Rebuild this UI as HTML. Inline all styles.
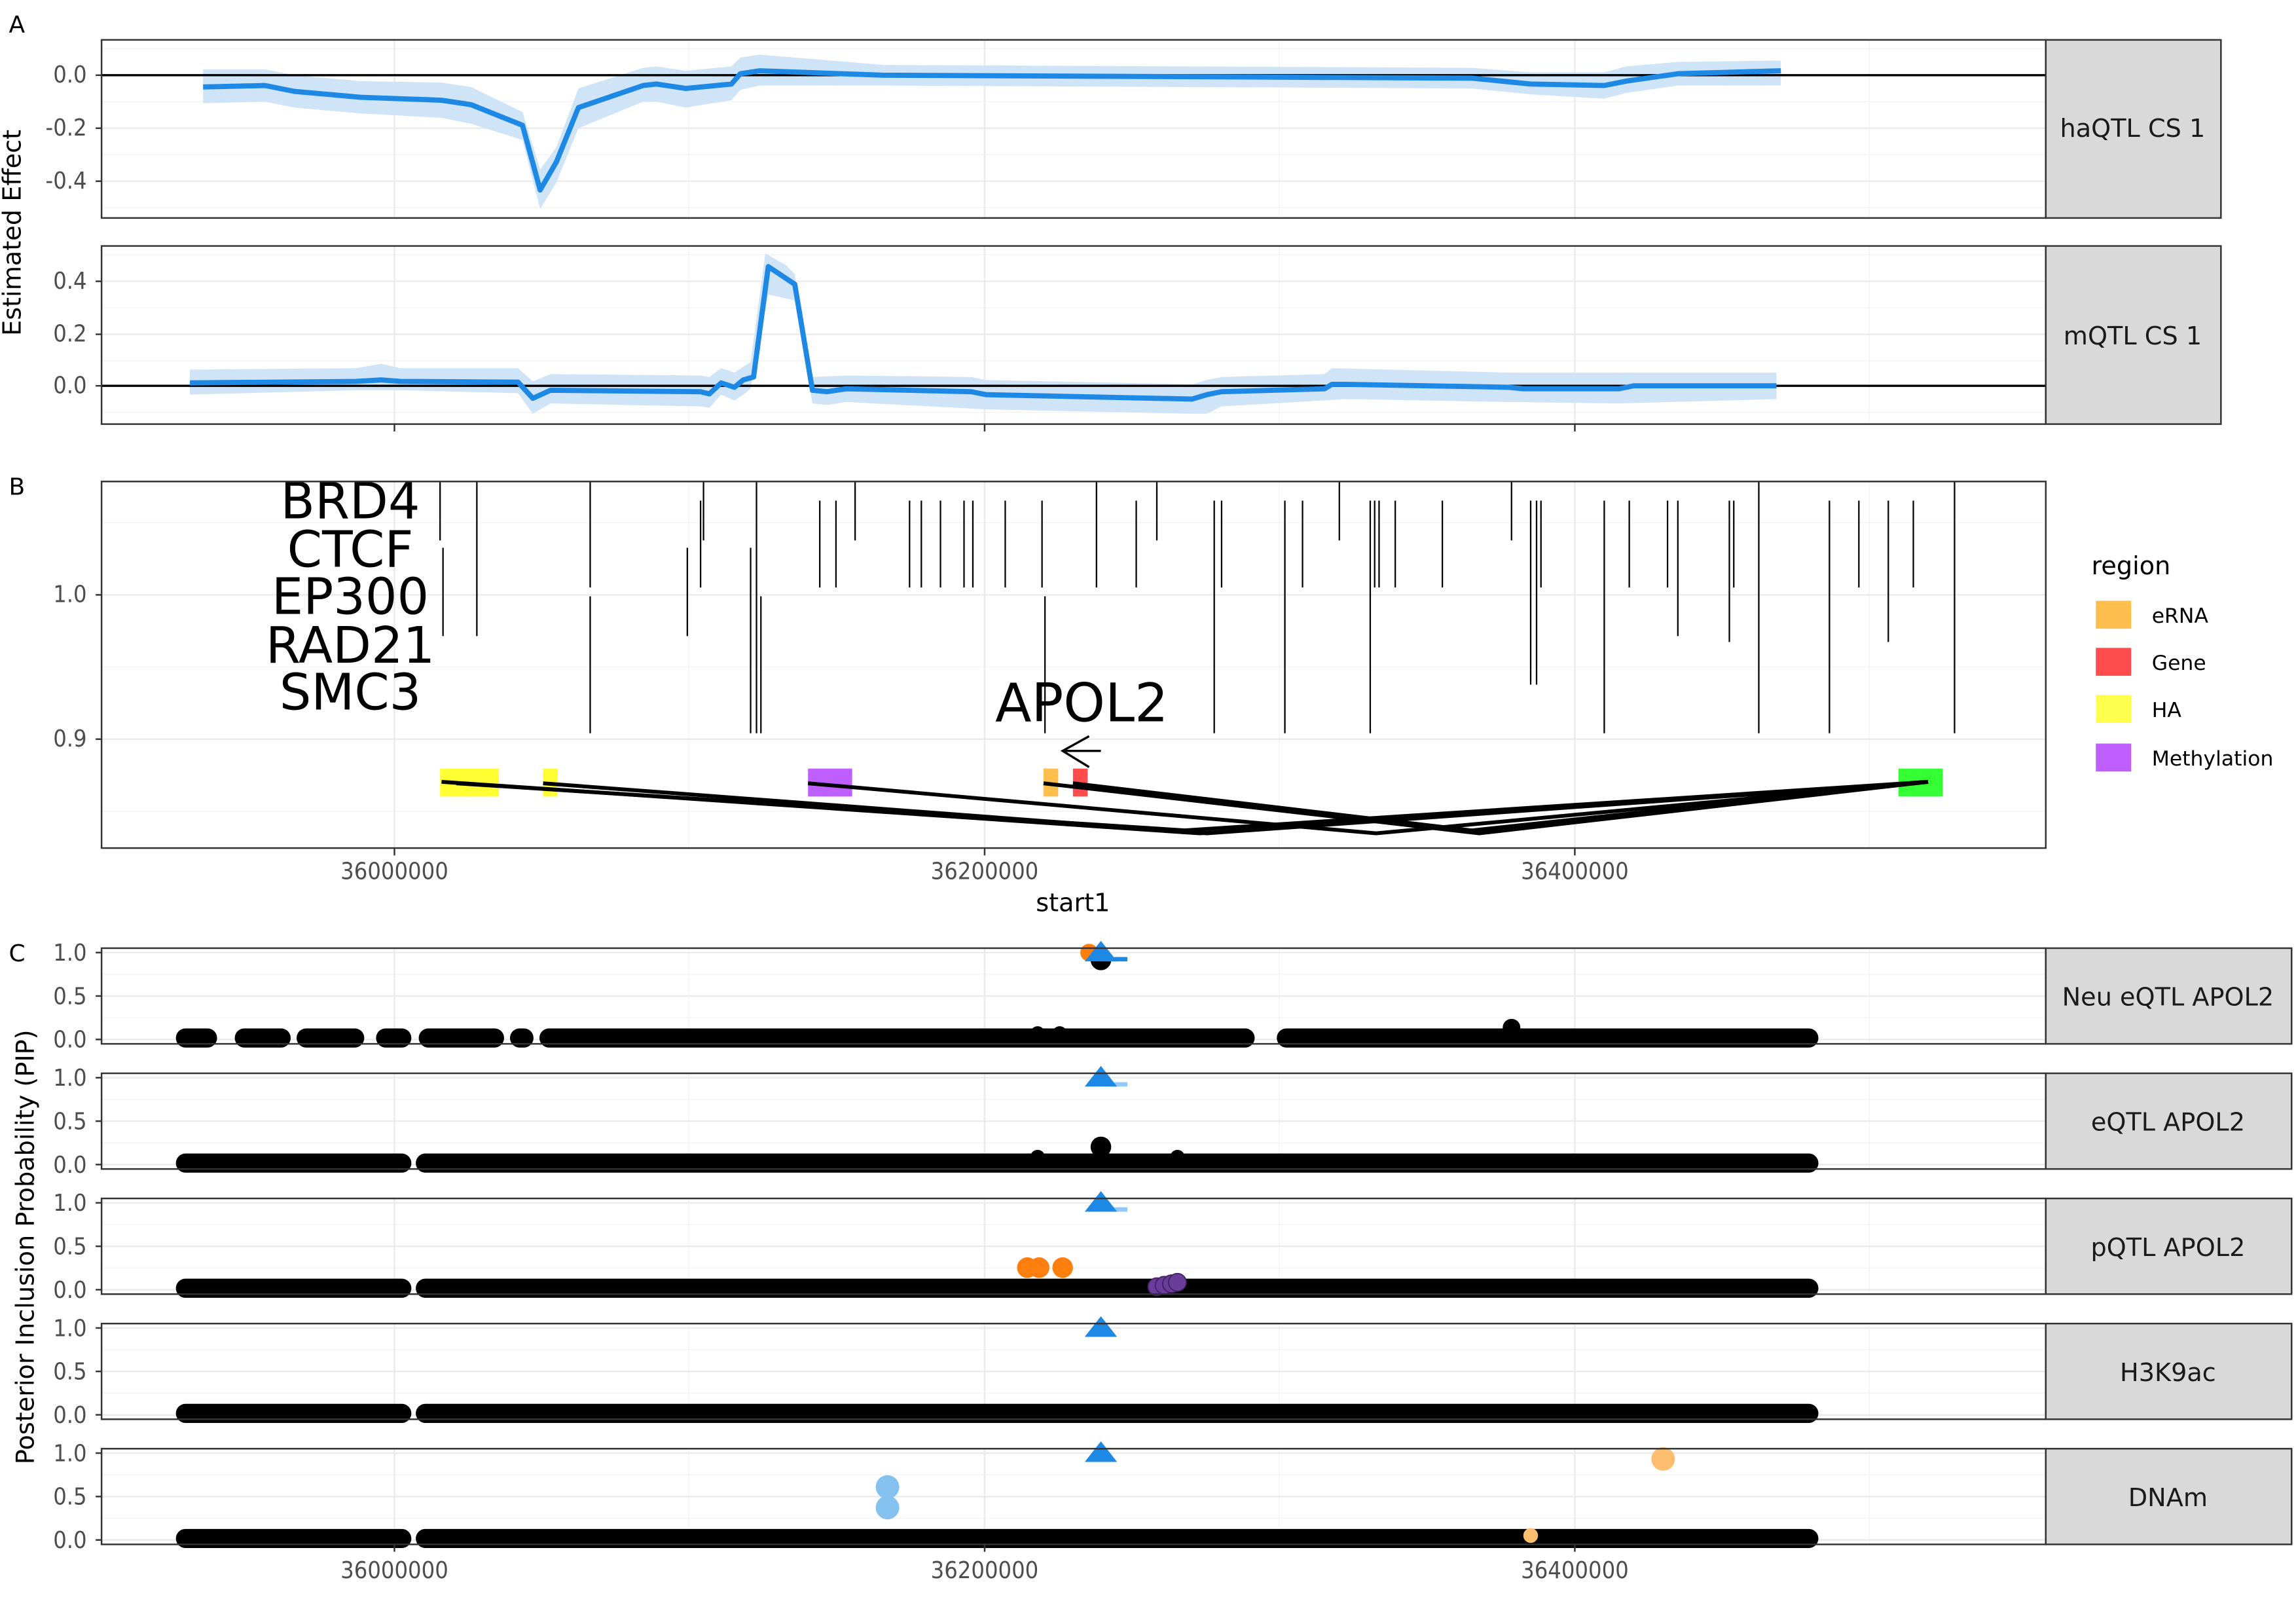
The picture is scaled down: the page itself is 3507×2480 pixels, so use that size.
<!DOCTYPE html>
<html><head><meta charset="utf-8"><style>
html,body{margin:0;padding:0;background:#fff;}
svg{display:block;}
text{font-family:"DejaVu Sans","Liberation Sans",sans-serif;}
.tk{font-size:16px;fill:#4d4d4d;font-stretch:condensed;}
.st{font-size:17px;fill:#1a1a1a;}
.mj{stroke:#ebebeb;stroke-width:1.1;}
.mn{stroke:#f2f2f2;stroke-width:0.6;}
.bd{fill:none;stroke:#333;stroke-width:1.1;}
.strip{fill:#d9d9d9;stroke:#333;stroke-width:1.1;}
.pk{stroke:#000;stroke-width:1;}
</style></head><body>
<svg width="3507" height="2480" viewBox="0 0 1560 1103" xmlns="http://www.w3.org/2000/svg">
<rect width="1560" height="1103" fill="#fff"/>
<!-- ===== Panel A ===== -->
<text x="6" y="22" font-size="16">A</text>
<text transform="translate(14,158) rotate(-90)" text-anchor="middle" font-size="17">Estimated Effect</text>
<g>
<line class="mn" x1="69" x2="1390" y1="33" y2="33"/><line class="mn" x1="69" x2="1390" y1="69" y2="69"/><line class="mn" x1="69" x2="1390" y1="105" y2="105"/><line class="mn" x1="69" x2="1390" y1="141" y2="141"/>
<line class="mn" x1="468" x2="468" y1="27" y2="148"/><line class="mn" x1="869" x2="869" y1="27" y2="148"/><line class="mn" x1="1270" x2="1270" y1="27" y2="148"/>
<line class="mj" x1="69" x2="1390" y1="51" y2="51"/><line class="mj" x1="69" x2="1390" y1="87" y2="87"/><line class="mj" x1="69" x2="1390" y1="123" y2="123"/>
<line class="mj" x1="268" x2="268" y1="27" y2="148"/><line class="mj" x1="669" x2="669" y1="27" y2="148"/><line class="mj" x1="1070" x2="1070" y1="27" y2="148"/>
<polygon fill="#d0e4f8" points="138,47 180,47 200,51 245,55 300,56 320,59 355,76 367,115 378,100 393,60 437,46 446,45 466,48 497,45 503,39 516,37 600,44 1000,46 1040,49 1090,49 1105,45 1140,42 1210,41 1210,58 1140,58 1105,63 1090,67 1040,64 1000,60 600,58 516,58 503,61 497,68 466,73 446,69 437,69 393,87 378,124 367,142 355,95 320,84 300,80 245,77 200,73 180,69 138,70"/>
<line x1="69" x2="1390" y1="51" y2="51" stroke="#000" stroke-width="1.5"/>
<polyline fill="none" stroke="#1e88e5" stroke-width="3.5" stroke-linejoin="round" points="138,59 180,58 200,62 245,66 300,68 320,71 355,85 367,129 378,110 393,73 437,58 446,57 466,60 497,57 503,50 516,48 600,51 1000,53 1040,57 1090,58 1105,55 1140,50 1210,48"/>
<rect class="bd" x="69" y="27" width="1321" height="121"/>
<rect class="strip" x="1390" y="27" width="119" height="121"/>
<text class="st" x="1449" y="93" text-anchor="middle">haQTL CS 1</text>
<g class="tk" text-anchor="end"><text x="59" y="56">0.0</text><text x="59" y="92">-0.2</text><text x="59" y="128">-0.4</text></g>
<g stroke="#333" stroke-width="1.1"><line x1="65" x2="69" y1="51" y2="51"/><line x1="65" x2="69" y1="87" y2="87"/><line x1="65" x2="69" y1="123" y2="123"/></g>
</g>
<g>
<line class="mn" x1="69" x2="1390" y1="173" y2="173"/><line class="mn" x1="69" x2="1390" y1="209" y2="209"/><line class="mn" x1="69" x2="1390" y1="245" y2="245"/><line class="mn" x1="69" x2="1390" y1="280" y2="280"/>
<line class="mn" x1="468" x2="468" y1="167" y2="288"/><line class="mn" x1="869" x2="869" y1="167" y2="288"/><line class="mn" x1="1270" x2="1270" y1="167" y2="288"/>
<line class="mj" x1="69" x2="1390" y1="191" y2="191"/><line class="mj" x1="69" x2="1390" y1="227" y2="227"/><line class="mj" x1="69" x2="1390" y1="262" y2="262"/>
<line class="mj" x1="268" x2="268" y1="167" y2="288"/><line class="mj" x1="669" x2="669" y1="167" y2="288"/><line class="mj" x1="1070" x2="1070" y1="167" y2="288"/>
<polygon fill="#d0e4f8" points="129,251 242,250 259,247 272,250 352,250 362,259 374,254 476,255 482,256 490,250 499,253 505,249 510,246 520,172 534,180 540,186 552,256 575,255 660,256 670,258 810,261 820,258 830,256 900,254 905,250 1025,253 1100,253 1207,253 1207,271 1100,274 1025,273 915,271 830,276 820,281 810,281 670,278 575,273 562,275 552,274 540,204 522,200 510,264 505,268 499,272 490,268 482,277 476,276 374,274 362,281 352,267 272,265 242,265 129,268"/>
<line x1="69" x2="1390" y1="262" y2="262" stroke="#000" stroke-width="1.5"/>
<polyline fill="none" stroke="#1e88e5" stroke-width="3.5" stroke-linejoin="round" points="129,260 242,259 259,258 272,259 352,259.5 362,270.5 374,265 476,266 482,267.5 490,260 499,263 505,258 512,256 522,181 540,193 552,265 562,266 575,264 660,266 670,268 810,271 820,268 830,266 900,264 905,261 915,261 1025,263 1035,264 1100,264 1110,262 1207,262"/>
<rect class="bd" x="69" y="167" width="1321" height="121"/>
<rect class="strip" x="1390" y="167" width="119" height="121"/>
<text class="st" x="1449" y="234" text-anchor="middle">mQTL CS 1</text>
<g class="tk" text-anchor="end"><text x="59" y="196">0.4</text><text x="59" y="232">0.2</text><text x="59" y="267">0.0</text></g>
<g stroke="#333" stroke-width="1.1"><line x1="65" x2="69" y1="191" y2="191"/><line x1="65" x2="69" y1="227" y2="227"/><line x1="65" x2="69" y1="262" y2="262"/>
<line x1="268" x2="268" y1="288" y2="293"/><line x1="669" x2="669" y1="288" y2="293"/><line x1="1070" x2="1070" y1="288" y2="293"/></g>
</g>
<!-- ===== Panel B ===== -->
<text x="6" y="336" font-size="16">B</text>
<g>
<line class="mn" x1="69" x2="1390" y1="355" y2="355"/><line class="mn" x1="69" x2="1390" y1="453" y2="453"/><line class="mn" x1="69" x2="1390" y1="551" y2="551"/>
<line class="mn" x1="468" x2="468" y1="327" y2="576"/><line class="mn" x1="869" x2="869" y1="327" y2="576"/><line class="mn" x1="1270" x2="1270" y1="327" y2="576"/>
<line class="mj" x1="69" x2="1390" y1="404" y2="404"/><line class="mj" x1="69" x2="1390" y1="502" y2="502"/>
<line class="mj" x1="268" x2="268" y1="327" y2="576"/><line class="mj" x1="669" x2="669" y1="327" y2="576"/><line class="mj" x1="1070" x2="1070" y1="327" y2="576"/>
<g class="pk">
<line x1="299" x2="299" y1="327" y2="367"/><line x1="301" x2="301" y1="372" y2="432"/><line x1="324" x2="324" y1="327" y2="432"/>
<line x1="401" x2="401" y1="327" y2="399"/><line x1="401" x2="401" y1="405" y2="498"/>
<line x1="467" x2="467" y1="372" y2="432"/><line x1="476" x2="476" y1="340" y2="399"/><line x1="478" x2="478" y1="327" y2="367"/>
<line x1="510" x2="510" y1="372" y2="498"/><line x1="514" x2="514" y1="327" y2="498"/><line x1="517" x2="517" y1="405" y2="498"/>
<line x1="557" x2="557" y1="340" y2="399"/><line x1="568" x2="568" y1="340" y2="399"/><line x1="581" x2="581" y1="327" y2="367"/>
<line x1="618" x2="618" y1="340" y2="399"/><line x1="626" x2="626" y1="340" y2="399"/><line x1="639" x2="639" y1="340" y2="399"/><line x1="655" x2="655" y1="340" y2="399"/><line x1="661" x2="661" y1="340" y2="399"/>
<line x1="683" x2="683" y1="340" y2="399"/><line x1="708" x2="708" y1="340" y2="399"/><line x1="710" x2="710" y1="405" y2="498"/>
<line x1="745" x2="745" y1="327" y2="399"/><line x1="772" x2="772" y1="340" y2="399"/><line x1="786" x2="786" y1="327" y2="367"/>
<line x1="825" x2="825" y1="340" y2="498"/><line x1="830" x2="830" y1="340" y2="399"/><line x1="873" x2="873" y1="340" y2="498"/><line x1="885" x2="885" y1="340" y2="399"/>
<line x1="910" x2="910" y1="327" y2="367"/><line x1="931" x2="931" y1="340" y2="498"/><line x1="934" x2="934" y1="340" y2="399"/><line x1="937" x2="937" y1="340" y2="399"/><line x1="948" x2="948" y1="340" y2="399"/><line x1="980" x2="980" y1="340" y2="399"/>
<line x1="1027" x2="1027" y1="327" y2="367"/><line x1="1040" x2="1040" y1="340" y2="465"/><line x1="1044" x2="1044" y1="340" y2="465"/><line x1="1047" x2="1047" y1="340" y2="399"/>
<line x1="1090" x2="1090" y1="340" y2="498"/><line x1="1107" x2="1107" y1="340" y2="399"/><line x1="1133" x2="1133" y1="340" y2="399"/><line x1="1140" x2="1140" y1="340" y2="432"/>
<line x1="1175" x2="1175" y1="340" y2="436"/><line x1="1178" x2="1178" y1="340" y2="399"/><line x1="1195" x2="1195" y1="327" y2="498"/>
<line x1="1243" x2="1243" y1="340" y2="498"/><line x1="1263" x2="1263" y1="340" y2="399"/><line x1="1283" x2="1283" y1="340" y2="436"/><line x1="1300" x2="1300" y1="340" y2="399"/><line x1="1328" x2="1328" y1="327" y2="498"/>
</g>
<g font-size="34" text-anchor="middle" fill="#000"><text x="238" y="352">BRD4</text><text x="238" y="385">CTCF</text><text x="238" y="417">EP300</text><text x="238" y="450">RAD21</text><text x="238" y="482">SMC3</text></g>
<text x="735" y="490" font-size="36" text-anchor="middle">APOL2</text>
<g stroke="#000" stroke-width="1.5" fill="none"><line x1="722" x2="748" y1="510" y2="510"/><polyline points="740,500 722,510 740,521"/></g>
<rect x="299" y="522" width="40" height="19" fill="#ffff33"/><rect x="369" y="522" width="10" height="19" fill="#ffff33"/>
<rect x="549" y="522" width="30" height="19" fill="#bf5fff"/>
<rect x="709" y="522" width="10" height="19" fill="#ffbf4d"/><rect x="729" y="522" width="10" height="19" fill="#ff4d4d"/>
<rect x="1290" y="522" width="30" height="19" fill="#33ff33"/>
<g stroke="#000" stroke-width="2.6" fill="none">
<polyline points="300,531 815,566 1310,531"/><polyline points="310,532 805,564 1310,531"/><polyline points="369,532 820,566 1310,531"/>
<polyline points="549,532 935,566 1310,531"/><polyline points="709,532 1005,566 1310,531"/><polyline points="729,532 1000,564 1310,531"/>
</g>
<rect class="bd" x="69" y="327" width="1321" height="249"/>
<g class="tk" text-anchor="end"><text x="59" y="409">1.0</text><text x="59" y="507">0.9</text></g>
<g stroke="#333" stroke-width="1.1"><line x1="65" x2="69" y1="404" y2="404"/><line x1="65" x2="69" y1="502" y2="502"/>
<line x1="268" x2="268" y1="576" y2="581"/><line x1="669" x2="669" y1="576" y2="581"/><line x1="1070" x2="1070" y1="576" y2="581"/></g>
<g class="tk" text-anchor="middle" font-size="15"><text x="268" y="597">36000000</text><text x="669" y="597">36200000</text><text x="1070" y="597">36400000</text></g>
<text x="729" y="619" font-size="17" text-anchor="middle">start1</text>
<text x="1421" y="390" font-size="17">region</text>
<rect x="1424" y="408" width="24" height="19" fill="#ffbf4d"/><rect x="1424" y="440" width="24" height="19" fill="#ff4d4d"/>
<rect x="1424" y="472" width="24" height="19" fill="#ffff4d"/><rect x="1424" y="505" width="24" height="19" fill="#bf5fff"/>
<g font-size="14"><text x="1462" y="423">eRNA</text><text x="1462" y="455">Gene</text><text x="1462" y="487">HA</text><text x="1462" y="520">Methylation</text></g>
</g>
<!-- ===== Panel C ===== -->
<text x="6" y="653" font-size="16">C</text>
<text transform="translate(23,847) rotate(-90)" text-anchor="middle" font-size="17">Posterior Inclusion Probability (PIP)</text>
<defs>
<g id="cbg">
<line class="mn" x1="69" x2="1390" y1="17.75" y2="17.75"/><line class="mn" x1="69" x2="1390" y1="47.25" y2="47.25"/>
<line class="mn" x1="468" x2="468" y1="0" y2="65"/><line class="mn" x1="869" x2="869" y1="0" y2="65"/><line class="mn" x1="1270" x2="1270" y1="0" y2="65"/>
<line class="mj" x1="69" x2="1390" y1="3" y2="3"/><line class="mj" x1="69" x2="1390" y1="32.5" y2="32.5"/><line class="mj" x1="69" x2="1390" y1="62" y2="62"/>
<line class="mj" x1="268" x2="268" y1="0" y2="65"/><line class="mj" x1="669" x2="669" y1="0" y2="65"/><line class="mj" x1="1070" x2="1070" y1="0" y2="65"/>
</g>
<g id="cax">
<g class="tk" text-anchor="end" font-size="16"><text x="59" y="8.5">1.0</text><text x="59" y="38">0.5</text><text x="59" y="67.5">0.0</text></g>
<g stroke="#333" stroke-width="1.1"><line x1="65" x2="69" y1="3" y2="3"/><line x1="65" x2="69" y1="32.5" y2="32.5"/><line x1="65" x2="69" y1="62" y2="62"/></g>
</g>
<polygon id="tri" points="-11,6 11,6 0,-8" fill="#1e88e5"/>
</defs>
<g transform="translate(0,644)">
<use href="#cbg"/>
<g stroke="#000" stroke-width="13" stroke-linecap="round">
<line x1="126" x2="141" y1="61" y2="61"/><line x1="166" x2="191" y1="61" y2="61"/><line x1="208" x2="241" y1="61" y2="61"/><line x1="262" x2="273" y1="61" y2="61"/><line x1="291" x2="336" y1="61" y2="61"/><line x1="353" x2="356" y1="61" y2="61"/><line x1="373" x2="846" y1="61" y2="61"/><line x1="874" x2="1229" y1="61" y2="61"/>
</g>
<circle cx="1027" cy="54" r="6"/><circle cx="705" cy="58" r="5"/><circle cx="720" cy="58" r="5"/>
<circle cx="740" cy="3" r="6" fill="#ff7f0e"/><circle cx="748" cy="8" r="7"/>
<rect x="752" y="6" width="14" height="3" fill="#1e88e5"/>
<use href="#tri" x="748" y="3"/>
<rect class="bd" x="69" y="0" width="1321" height="65"/>
<rect class="strip" x="1390" y="0" width="167" height="65"/>
<text class="st" x="1473" y="39" text-anchor="middle">Neu eQTL APOL2</text>
<use href="#cax"/>
</g>
<g transform="translate(0,729)">
<use href="#cbg"/>
<g stroke="#000" stroke-width="13" stroke-linecap="round"><line x1="126" x2="273" y1="61" y2="61"/><line x1="289" x2="1229" y1="61" y2="61"/></g>
<circle cx="748" cy="50" r="7"/><circle cx="705" cy="57" r="5"/><circle cx="800" cy="57" r="5"/>
<rect x="752" y="6" width="14" height="3" fill="#90caf9"/>
<use href="#tri" x="748" y="3"/>
<rect class="bd" x="69" y="0" width="1321" height="65"/>
<rect class="strip" x="1390" y="0" width="167" height="65"/>
<text class="st" x="1473" y="39" text-anchor="middle">eQTL APOL2</text>
<use href="#cax"/>
</g>
<g transform="translate(0,814)">
<use href="#cbg"/>
<g stroke="#000" stroke-width="13" stroke-linecap="round"><line x1="126" x2="273" y1="61" y2="61"/><line x1="289" x2="1229" y1="61" y2="61"/></g>
<circle cx="698" cy="47" r="7" fill="#ff7f0e"/><circle cx="706" cy="47" r="7" fill="#ff7f0e"/><circle cx="722" cy="47" r="7" fill="#ff7f0e"/>
<g fill="#6a3d9a" stroke="#3f2060" stroke-width="0.8"><circle cx="786" cy="60" r="6"/><circle cx="791" cy="59" r="6"/><circle cx="796" cy="58" r="6"/><circle cx="800" cy="57" r="6"/></g>
<rect x="752" y="6" width="14" height="3" fill="#90caf9"/>
<use href="#tri" x="748" y="3"/>
<rect class="bd" x="69" y="0" width="1321" height="65"/>
<rect class="strip" x="1390" y="0" width="167" height="65"/>
<text class="st" x="1473" y="39" text-anchor="middle">pQTL APOL2</text>
<use href="#cax"/>
</g>
<g transform="translate(0,899)">
<use href="#cbg"/>
<g stroke="#000" stroke-width="13" stroke-linecap="round"><line x1="126" x2="273" y1="61" y2="61"/><line x1="289" x2="1229" y1="61" y2="61"/></g>
<use href="#tri" x="748" y="3"/>
<rect class="bd" x="69" y="0" width="1321" height="65"/>
<rect class="strip" x="1390" y="0" width="167" height="65"/>
<text class="st" x="1473" y="39" text-anchor="middle">H3K9ac</text>
<use href="#cax"/>
</g>
<g transform="translate(0,984)">
<use href="#cbg"/>
<g stroke="#000" stroke-width="13" stroke-linecap="round"><line x1="126" x2="273" y1="61" y2="61"/><line x1="289" x2="1229" y1="61" y2="61"/></g>
<circle cx="603" cy="26" r="8" fill="#85c1ee"/><circle cx="603" cy="40" r="8" fill="#85c1ee"/>
<circle cx="1130" cy="7" r="8" fill="#fdbf6f"/><circle cx="1040" cy="59" r="5" fill="#fdbf6f"/>
<use href="#tri" x="748" y="3"/>
<rect class="bd" x="69" y="0" width="1321" height="65"/>
<rect class="strip" x="1390" y="0" width="167" height="65"/>
<text class="st" x="1473" y="39" text-anchor="middle">DNAm</text>
<use href="#cax"/>
<g stroke="#333" stroke-width="1.1"><line x1="268" x2="268" y1="65" y2="70"/><line x1="669" x2="669" y1="65" y2="70"/><line x1="1070" x2="1070" y1="65" y2="70"/></g>
</g>
<g class="tk" text-anchor="middle" font-size="17"><text x="268" y="1072">36000000</text><text x="669" y="1072">36200000</text><text x="1070" y="1072">36400000</text></g>
</svg>
</body></html>
